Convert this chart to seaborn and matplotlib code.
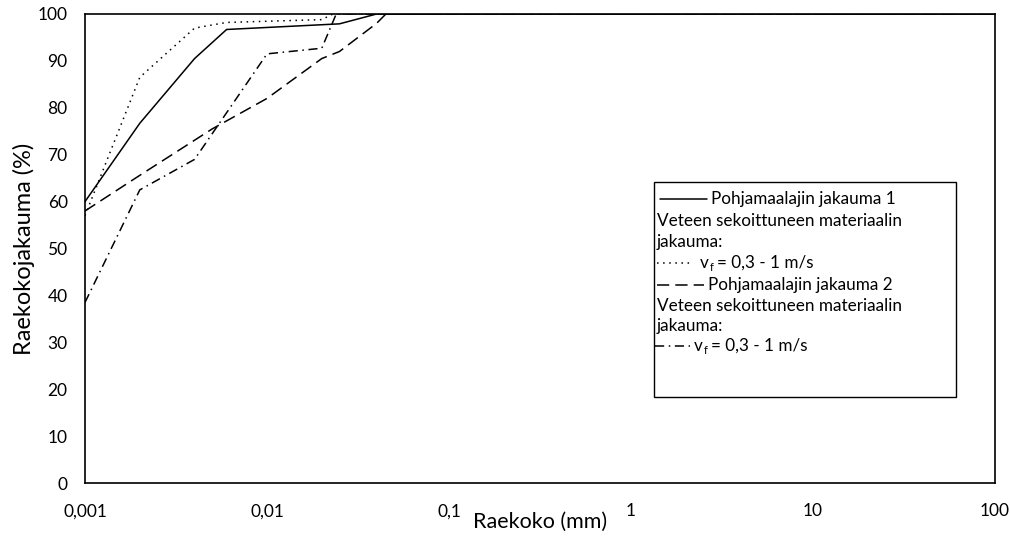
import matplotlib
matplotlib.use("Agg")
import matplotlib.pyplot as plt
from matplotlib.lines import Line2D
from matplotlib.patches import Rectangle
import seaborn as sns
import pandas as pd

# ---- data ----
size_pohja1 = [0.001, 0.002, 0.004, 0.006, 0.025, 0.04, 100]
pohja1 = [60, 76.7, 90.5, 96.7, 97.9, 100, 100]

size_vf1 = [0.001, 0.002, 0.004, 0.006, 0.02, 0.023, 100]
vf1 = [57, 86.5, 97.0, 98.2, 98.8, 100, 100]

size_pohja2 = [0.001, 0.002, 0.005, 0.01, 0.02, 0.025, 0.04, 0.045, 100]
pohja2 = [58, 65.6, 75.5, 82, 90.5, 92, 98, 100, 100]

size_vf2 = [0.001, 0.002, 0.004, 0.01, 0.02, 0.024, 100]
vf2 = [38.5, 62.5, 69, 91.5, 92.7, 100, 100]

x_ticks = [0.001, 0.01, 0.1, 1, 10, 100]
x_ticklabels = ["0,001", "0,01", "0,1", "1", "10", "100"]
y_ticks = list(range(0, 101, 10))

xlabel = "Raekoko (mm)"
ylabel = "Raekokojakauma (%)"

sns.set_theme(style="white")
plt.rcParams["font.family"] = ["Lato", "DejaVu Sans"]

W, H = 1010, 540
fig = plt.figure(figsize=(W / 100, H / 100), dpi=100)
fig.patch.set_facecolor("white")
ax = fig.add_axes([85 / W, 1 - 483 / H, (995 - 85) / W, (483 - 14) / H])
ax.set_facecolor("white")

LW = 1.1
styles = {
    "p1": (size_pohja1, pohja1, "-"),
    "v1": (size_vf1, vf1, (0, (1, 3))),
    "p2": (size_pohja2, pohja2, (0, (8, 4))),
    "v2": (size_vf2, vf2, (0, (6, 3, 1, 3))),
}
for key, (xs, ys, ls) in styles.items():
    df = pd.DataFrame({"x": xs, "y": ys})
    sns.lineplot(data=df, x="x", y="y", ax=ax, color="black", linewidth=LW,
                 linestyle=ls, estimator=None, sort=False, legend=False)

ax.set_xscale("log")
ax.set_xlim(0.001, 100)
ax.set_ylim(0, 100)
ax.set_xticks(x_ticks)
ax.set_xticklabels(x_ticklabels)
ax.minorticks_off()
ax.set_yticks(y_ticks)
ax.set_yticklabels([str(v) for v in y_ticks])

for s in ax.spines.values():
    s.set_color("black")
    s.set_linewidth(1.2)
    s.set_visible(True)

ax.tick_params(axis="both", direction="inout", length=9, width=1.1,
               colors="black", labelsize=12.5)
ax.tick_params(axis="y", pad=8)
ax.tick_params(axis="x", pad=10)
ax.set_xlabel(xlabel, fontsize=15.5, color="black", labelpad=-5)
ax.set_ylabel(ylabel, fontsize=17, color="black", labelpad=2)
ax.grid(False)

# ---- custom legend box ----
def fx(px):
    return px / W

def fy(py):
    return 1 - py / H

fig.add_artist(Rectangle((fx(654), fy(397)), fx(956) - fx(654), fy(182) - fy(397),
                         transform=fig.transFigure, facecolor="white",
                         edgecolor="black", linewidth=1.0))

FS = 12.3
renderer = fig.canvas.get_renderer()

def vf_text(tx, ty):
    t1 = fig.text(fx(tx), fy(ty), "v", fontsize=FS, ha="left", va="center",
                  color="black")
    bb = t1.get_window_extent(renderer)
    x1 = bb.x1
    t2 = fig.text((x1 + 0.5) / W, fy(ty + 5), "f", fontsize=FS * 0.65,
                  ha="left", va="center", color="black")
    bb2 = t2.get_window_extent(renderer)
    fig.text((bb2.x1 + 4) / W, fy(ty), "= 0,3 - 1 m/s", fontsize=FS,
             ha="left", va="center", color="black")

entries = [
    # (handle_style, handle_x0, handle_x1, text_x, y, text)
    ("-", 660, 707, 711, 199, "Pohjamaalajin jakauma 1"),
    (None, 0, 0, 657, 221, "Veteen sekoittuneen materiaalin"),
    (None, 0, 0, 657, 242, "jakauma:"),
    ((0, (1, 3)), 657, 692, 700, 263, None),
    ((0, (8, 4)), 657, 704, 708, 285, "Pohjamaalajin jakauma 2"),
    (None, 0, 0, 657, 306, "Veteen sekoittuneen materiaalin"),
    (None, 0, 0, 657, 326, "jakauma:"),
    ((0, (6, 3, 1, 3)), 655, 690, 694, 346, None),
]
for ls, hx0, hx1, tx, ty, txt in entries:
    if ls is not None:
        fig.add_artist(Line2D([fx(hx0), fx(hx1)], [fy(ty), fy(ty)],
                              transform=fig.transFigure, color="black",
                              linewidth=LW, linestyle=ls))
    if txt is None:
        vf_text(tx, ty)
    else:
        fig.text(fx(tx), fy(ty), txt, fontsize=FS, ha="left", va="center",
                 color="black")

fig.savefig("out.png", dpi=100, facecolor="white")
